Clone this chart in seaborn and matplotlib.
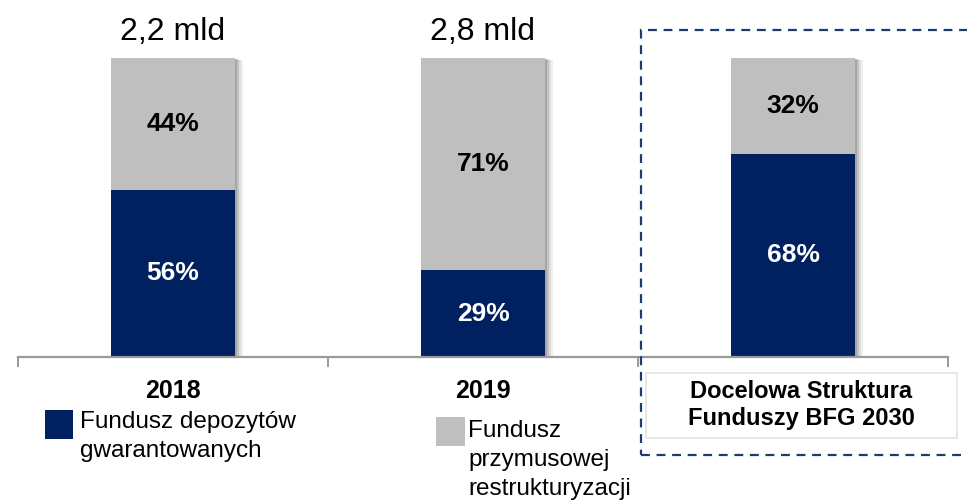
import matplotlib
matplotlib.use("Agg")
import matplotlib.pyplot as plt
import matplotlib.patheffects as pe
from matplotlib.patches import Rectangle
import seaborn as sns
import pandas as pd

# Fund structure of BFG (Bankowy Fundusz Gwarancyjny)
categories = ["2018", "2019", "2030"]
tick_labels = ["2018", "2019", ""]
deposit_share = [56, 29, 68]        # Fundusz depozytów gwarantowanych, %
resolution_share = [44, 71, 32]     # Fundusz przymusowej restrukturyzacji, %
totals_text = ["2,2 mld", "2,8 mld", ""]
target_label = "Docelowa Struktura\nFunduszy BFG 2030"
legend_labels = ["Fundusz depozytów\ngwarantowanych",
                 "Fundusz\nprzymusowej\nrestrukturyzacji"]

NAVY = "#002060"
GREY = "#BFBFBF"
AXIS_GREY = "#9A9A9A"
BOX_BLUE = "#1F3A6E"

sns.set_style("white")
plt.rcParams["font.family"] = ["Liberation Sans", "DejaVu Sans"]
plt.rcParams["text.color"] = "black"
plt.rcParams["xtick.color"] = "black"

W, H = 967, 500
fig = plt.figure(figsize=(W / 100, H / 100), dpi=100)

# axes in pixel geometry: x from 18 to 948, y baseline 357, 100% at 58
def px(x0, y_top, x1, y_bot):
    return [x0 / W, 1 - y_bot / H, (x1 - x0) / W, (y_bot - y_top) / H]

ax = fig.add_axes(px(18, 58, 948, 357))

df = pd.DataFrame({
    "cat": categories,
    "total": [d + r for d, r in zip(deposit_share, resolution_share)],
    "deposit": deposit_share,
})

shadow = [pe.SimplePatchShadow(offset=(6, -1.5), shadow_rgbFace="k", alpha=0.06),
          pe.SimplePatchShadow(offset=(4.5, -1.2), shadow_rgbFace="k", alpha=0.08),
          pe.SimplePatchShadow(offset=(3, -1), shadow_rgbFace="k", alpha=0.12),
          pe.SimplePatchShadow(offset=(1.5, -0.5), shadow_rgbFace="k", alpha=0.15),
          pe.Normal()]

sns.barplot(data=df, x="cat", y="total", color=GREY, saturation=1,
            width=0.40, ax=ax, linewidth=0)
for p in ax.patches:
    p.set_path_effects(shadow)
sns.barplot(data=df, x="cat", y="deposit", color=NAVY, saturation=1,
            width=0.40, ax=ax, linewidth=0)

ax.set_xlim(-0.5, 2.5)
ax.set_ylim(0, 100)
ax.set_xlabel("")
ax.set_ylabel("")
ax.set_yticks([])
for s in ["top", "right", "left"]:
    ax.spines[s].set_visible(False)
ax.spines["bottom"].set_color(AXIS_GREY)
ax.spines["bottom"].set_linewidth(1.6)

ax.set_xticks(range(len(categories)))
ax.set_xticklabels(tick_labels, fontsize=18, fontweight="bold", color="black")
ax.tick_params(axis="x", which="major", bottom=True, length=0, pad=16)
ax.set_xticks([-0.5, 0.5, 1.5, 2.5], minor=True)
ax.tick_params(axis="x", which="minor", bottom=True, length=7, width=1.4,
               color=AXIS_GREY, direction="out")

# segment value labels
for i, (d, r) in enumerate(zip(deposit_share, resolution_share)):
    ax.text(i, d / 2, f"{d}%", ha="center", va="center", color="white",
            fontsize=19, fontweight="bold")
    ax.text(i, d + r / 2, f"{r}%", ha="center", va="center", color="black",
            fontsize=19, fontweight="bold")
    if totals_text[i]:
        ax.text(i, 108.8, totals_text[i], ha="center", va="center",
                color="black", fontsize=23)

# dashed frame around the target structure
fig.add_artist(Rectangle((641 / W, 1 - 455 / H), 0.5, (455 - 30) / H,
                         transform=fig.transFigure, fill=False,
                         edgecolor=BOX_BLUE, linewidth=1.6,
                         linestyle=(0, (4, 3)), zorder=5))

# label box for the target structure
fig.add_artist(Rectangle((646 / W, 1 - 438 / H), (957 - 646) / W, (438 - 373) / H,
                         transform=fig.transFigure, facecolor="white",
                         edgecolor="#E3E3E3", linewidth=1.2, zorder=6))
fig.text(801 / W, 1 - 405 / H, target_label, ha="center", va="center",
         fontsize=17, fontweight="bold", linespacing=1.25, zorder=7)

# legend
fig.add_artist(Rectangle((45 / W, 1 - 439 / H), 28 / W, 29 / H,
                         transform=fig.transFigure, facecolor=NAVY,
                         edgecolor="none"))
fig.text(80 / W, 1 - 411 / H, legend_labels[0], ha="left", va="top",
         fontsize=17.5, linespacing=1.4)
fig.add_artist(Rectangle((436 / W, 1 - 446 / H), 29 / W, 29 / H,
                         transform=fig.transFigure, facecolor=GREY,
                         edgecolor="none"))
fig.text(468 / W, 1 - 420 / H, legend_labels[1], ha="left", va="top",
         fontsize=17.5, linespacing=1.4)

fig.savefig("out.png", dpi=100)
